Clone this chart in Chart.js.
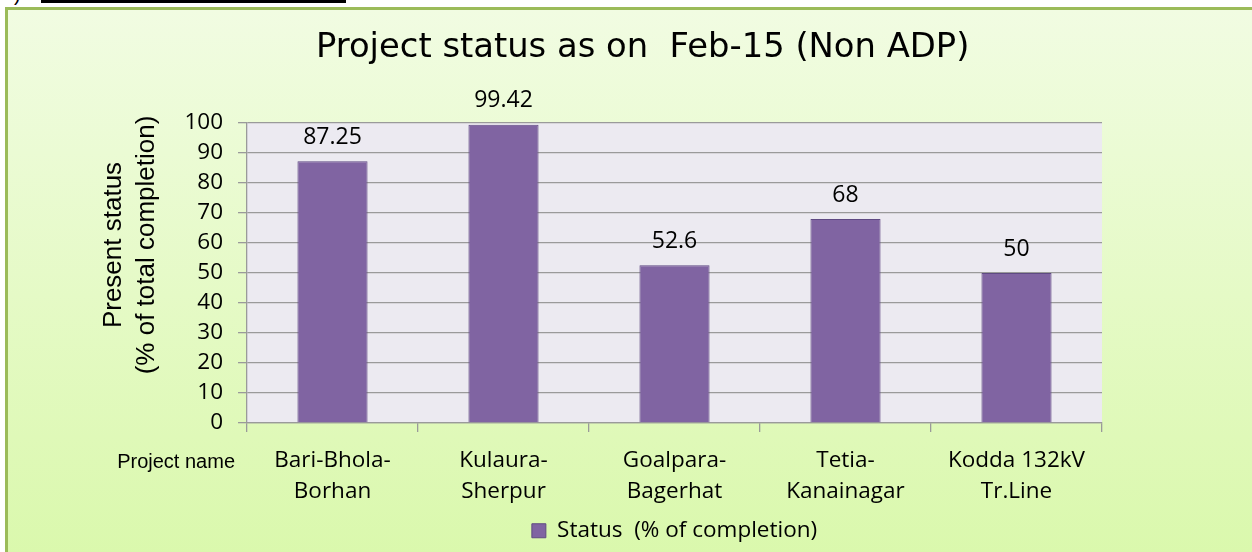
<!DOCTYPE html>
<html>
<head>
<meta charset="utf-8">
<title>Project status as on Feb-15 (Non ADP)</title>
<script src="https://cdn.jsdelivr.net/npm/chart.js@4.4.0/dist/chart.umd.min.js"></script>
<style>
  html, body { margin: 0; padding: 0; background: #fff; overflow: hidden; }
  #stage { position: relative; width: 1252px; height: 552px; overflow: hidden; }
  #frame {
    position: absolute; left: 5px; top: 7px; width: 1270px; height: 570px;
    border: 3px solid #9bbb59;
    background: linear-gradient(#f1fce2, #d9f8aa);
  }
  #cut { position: absolute; left: 14px; top: -17px; font: 20px "Liberation Sans", Arial, sans-serif; color: #000; }
  #rule { position: absolute; left: 41px; top: 0; width: 305px; height: 3px; background: #000; }
  canvas { position: absolute; left: 0; top: 0; }
</style>
</head>
<body>
<div id="stage">
  <div id="cut">)</div>
  <div id="rule"></div>
  <div id="frame"></div>
  <canvas id="chart" width="1252" height="552"></canvas>
</div>
<script>
  // ======= Data =======
  const chartTitle = "Project status as on  Feb-15 (Non ADP)";
  const yTitle = ["Present status", "(% of total completion)"];
  const xTitle = "Project name";
  const seriesName = "Status  (% of completion)";
  const categories = [
    ["Bari-Bhola-", "Borhan"],
    ["Kulaura-", "Sherpur"],
    ["Goalpara-", "Bagerhat"],
    ["Tetia-", "Kanainagar"],
    ["Kodda 132kV", "Tr.Line"]
  ];
  const statusValues = [87.25, 99.42, 52.6, 68, 50];
  const yMin = 0, yMax = 100, yStep = 10;

  const BAR = "#8064a2";
  const GRID = "#9a9a9a";
  const BODY_FONT = '"Open Sans", Lato, sans-serif';

  // fills the plot area with the lavender colour
  const plotBg = {
    id: "plotBg",
    beforeDraw(chart) {
      const { ctx, chartArea: a } = chart;
      ctx.save();
      ctx.fillStyle = "#eceaf1";
      ctx.fillRect(a.left, a.top, a.right - a.left, a.bottom - a.top);
      ctx.restore();
    }
  };

  // value above each bar
  const barValues = {
    id: "barValues",
    afterDatasetsDraw(chart) {
      const ctx = chart.ctx;
      const meta = chart.getDatasetMeta(0);
      ctx.save();
      ctx.font = "23px " + BODY_FONT;
      ctx.fillStyle = "#000";
      ctx.textAlign = "center";
      ctx.textBaseline = "alphabetic";
      meta.data.forEach((bar, i) => {
        ctx.fillText(String(statusValues[i]), bar.x, bar.y - 17.5);
      });
      ctx.restore();
    }
  };

  // chart title, y title and the "Project name" caption
  const chartText = {
    id: "chartText",
    afterDraw(chart) {
      const ctx = chart.ctx;
      ctx.save();
      ctx.fillStyle = "#000";
      ctx.font = '33.8px "DejaVu Sans", Arial, sans-serif';
      ctx.textAlign = "left";
      ctx.textBaseline = "alphabetic";
      ctx.fillText(chartTitle, 316, 57);

      ctx.font = '20px "Liberation Sans", Arial, sans-serif';
      ctx.textAlign = "right";
      ctx.textBaseline = "middle";
      ctx.fillText(xTitle, 235, 462);

      ctx.font = '26px "Liberation Sans", Arial, sans-serif';
      ctx.textAlign = "center";
      ctx.translate(114, 245);
      ctx.rotate(-Math.PI / 2);
      ctx.fillText(yTitle[0], 0, 0);
      ctx.fillText(yTitle[1], 0, 33);
      ctx.restore();
    }
  };

  new Chart(document.getElementById("chart"), {
    type: "bar",
    data: {
      labels: categories,
      datasets: [{
        label: seriesName,
        data: statusValues,
        backgroundColor: BAR,
        borderColor: "#5f4a83",
        borderWidth: 1,
        barPercentage: 0.41,
        categoryPercentage: 1
      }]
    },
    options: {
      responsive: false,
      animation: false,
      layout: { padding: { top: 123, left: 0, right: 150, bottom: 0 } },
      plugins: {
        title: { display: false },
        tooltip: { enabled: false },
        legend: {
          position: "bottom",
          fullSize: false,
          labels: {
            font: { family: BODY_FONT, size: 22.5 },
            color: "#000",
            boxWidth: 14,
            boxHeight: 14,
            padding: 13.75
          }
        }
      },
      scales: {
        x: {
          grid: { offset: true, drawOnChartArea: false, drawTicks: true, tickLength: 9, color: GRID, lineWidth: 1.3 },
          border: { display: true, color: GRID, width: 1.3 },
          ticks: { font: { family: BODY_FONT, size: 22.5, lineHeight: 1.38 }, color: "#000", padding: 13, maxRotation: 0, autoSkip: false },
          afterFit(scale) { scale.height = 82.75; }
        },
        y: {
          min: yMin,
          max: yMax,
          ticks: { stepSize: yStep, font: { family: BODY_FONT, size: 22.5 }, color: "#000", padding: 15 },
          grid: { color: GRID, lineWidth: 1.3, tickLength: 9 },
          border: { display: true, color: GRID, width: 1.3 },
          afterFit(scale) { scale.width = 247; }
        }
      }
    },
    plugins: [plotBg, barValues, chartText]
  });
</script>
</body>
</html>
